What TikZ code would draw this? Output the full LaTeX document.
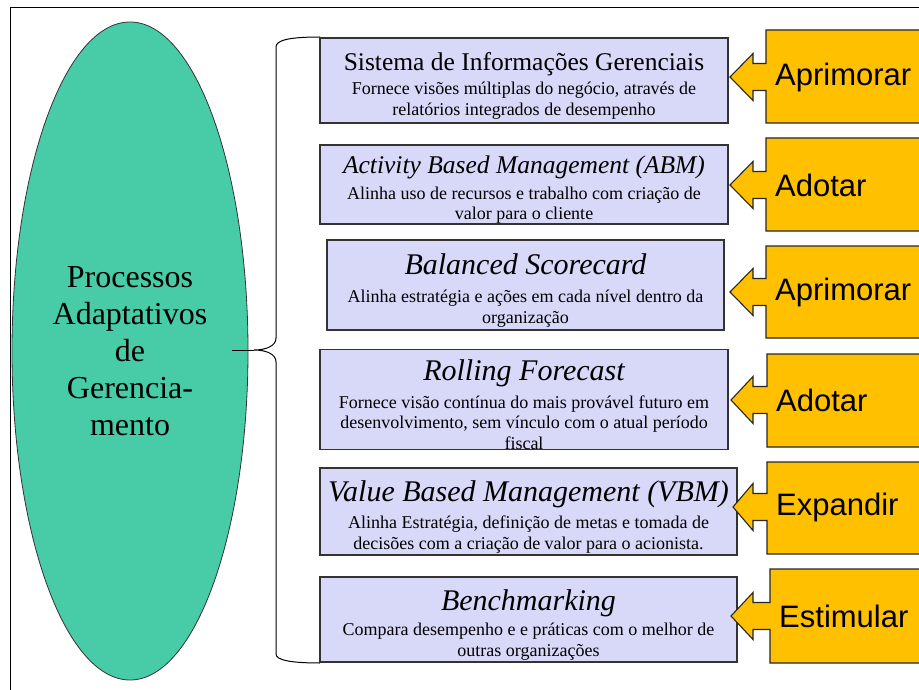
\documentclass[tikz,border=0pt]{standalone}
\usepackage{fontspec}
\setmainfont{Liberation Serif}
\newfontfamily\arialfont{Liberation Sans}
\usetikzlibrary{shapes.geometric}
\definecolor{tealfill}{RGB}{72,204,168}
\definecolor{lavfill}{RGB}{216,216,248}
\definecolor{orangefill}{RGB}{255,192,0}
\tikzset{
  infobox/.style={draw=black!80, line width=1.1pt, fill=lavfill, inner sep=0pt, align=center,
    font=\fontsize{18}{20.5}\selectfont},
  procell/.style={ellipse, draw=black!80, line width=0.8pt, fill=tealfill, inner sep=0pt, align=center,
    font=\fontsize{32}{37}\selectfont},
  callout/.style={draw=black!85, line width=1.1pt, fill=orangefill},
  actlabel/.style={anchor=west, inner sep=0pt, font=\arialfont\fontsize{31}{36}\selectfont},
}
\newcommand\smalltitle{\rule{0pt}{28pt}\fontsize{25.5}{28}\selectfont}
\newcommand\bigtitle{\rule{0pt}{31pt}\fontsize{30}{34}\selectfont\itshape}
\begin{document}
\begin{tikzpicture}[x=1pt,y=-1pt]
\useasboundingbox (0,0) rectangle (919,690);
\fill[white] (0,0) rectangle (919,690);
\clip (0,0) rectangle (919,690);
% frame
\draw[line width=0.8pt] (10,700) -- (10,7) -- (930,7);
% main ellipse
\node[procell, minimum width=236pt, minimum height=658pt] (proc) at (130,351)
  {Processos\\Adaptativos\\de\\Gerencia-\\mento};
\coordinate (stem) at (232,350);
\coordinate (tip) at (254,350);
% brace
\draw[line width=1pt] (320,37) .. controls (290,37) and (276,40) .. (276,47) -- (276,338)
  .. controls (276,346) and (266,350) .. (tip)
  .. controls (266,350) and (276,354) .. (276,362) -- (276,654)
  .. controls (276,660) and (290,663) .. (320,663);
\draw[line width=1pt] (stem) -- (tip);
% boxes
\node[infobox, minimum width=408pt, minimum height=85pt] (sig) at (524,80.5)
  {{\smalltitle Sistema de Informações Gerenciais}\\[4pt]
   Fornece visões múltiplas do negócio, através de\\
   relatórios integrados de desempenho};
\node[infobox, minimum width=408pt, minimum height=79pt] (abm) at (524,184.5)
  {{\smalltitle\itshape Activity Based Management (ABM)}\\[5pt]
   Alinha uso de recursos e trabalho com criação de\\
   valor para o cliente};
\node[infobox, minimum width=397pt, minimum height=90pt] (bsc) at (525.5,285)
  {{\bigtitle Balanced Scorecard}\\[8pt]
   Alinha estratégia e ações em cada nível dentro da\\
   organização};
\node[infobox, minimum width=408pt, minimum height=95pt] (rf) at (524,399.5)
  {{\bigtitle Rolling Forecast}\\[7pt]
   Fornece visão contínua do mais provável futuro em\\
   desenvolvimento, sem vínculo com o atual período\\
   fiscal};
\node[infobox, minimum width=417pt, minimum height=87pt] (vbm) at (528.5,511.5)
  {{\bigtitle Value Based Management (VBM)}\\[7pt]
   Alinha Estratégia, definição de metas e tomada de\\
   decisões com a criação de valor para o acionista.};
\node[infobox, minimum width=417pt, minimum height=85pt] (bench) at (528.5,619.5)
  {{\bigtitle Benchmarking}\\[5pt]
   Compara desempenho e e práticas com o melhor de\\
   outras organizações};
% action callouts
\foreach \t/\b/\c/\l/\tx/\lbl/\nm in {30/123/77/766/730/Aprimorar/act1, 138/231/185/766/730/Adotar/act2,
    246/338/292/766/730/Aprimorar/act3, 354/447/400/767/731/Adotar/act4,
    462/554/507/767/733/Expandir/act5, 569/663/616/770/731/Estimular/act6}
{
  \draw[callout] (940,\t) -- (\l,\t) -- (\l,\c-13.5) -- (753,\c-13.5) -- (753,\c-23.5) -- (\tx,\c)
    -- (753,\c+23.5) -- (753,\c+13.5) -- (\l,\c+13.5) -- (\l,\b) -- (940,\b) -- cycle;
  \node[actlabel] (\nm) at (\l+9,\c) {\lbl};
}
\end{tikzpicture}
\end{document}
